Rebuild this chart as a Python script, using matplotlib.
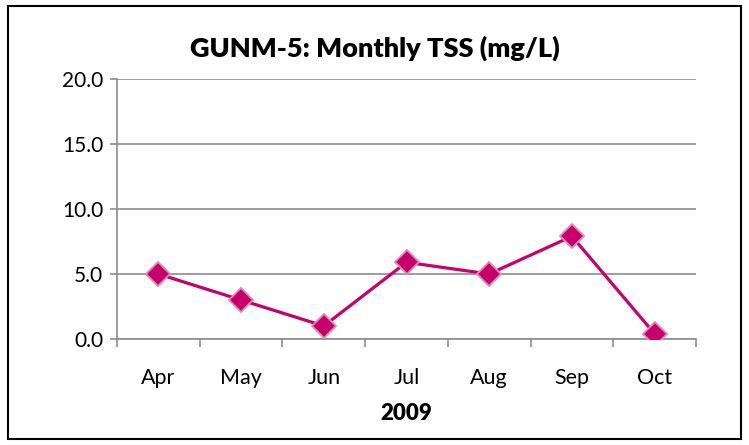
import matplotlib.pyplot as plt
from matplotlib.patches import Rectangle

# данные графика
months = ['Apr', 'May', 'Jun', 'Jul', 'Aug', 'Sep', 'Oct']
tss = [5.0, 3.0, 1.0, 5.9, 5.0, 7.9, 0.4]
yticks = [0.0, 5.0, 10.0, 15.0, 20.0]

plt.rcParams['font.family'] = ['Lato', 'DejaVu Sans']

fig = plt.figure(figsize=(7.49, 4.45), dpi=100)
ax = fig.add_axes([117/749, 1 - 339/445, (696-117)/749, (339-79)/445])

x = list(range(len(months)))
ax.plot(x, tss, '-', color='#C8006A', lw=2.3, zorder=3)
ax.plot(x, tss, 'D', ms=12, mfc='#C8006A', mec='#DE8AB8', mew=1.3, zorder=4)

ax.set_xlim(-0.5, len(months) - 0.5)
ax.set_ylim(0, 20)
ax.set_yticks(yticks)
ax.set_yticklabels([f'{v:.1f}' for v in yticks])
ax.set_xticks(x)
ax.set_xticklabels(months)
ax.set_xticks([i - 0.5 for i in range(len(months) + 1)], minor=True)

ax.grid(axis='y', color='#8c8c8c', lw=1.2)
ax.set_axisbelow(True)
for s in ['top', 'right']:
    ax.spines[s].set_visible(False)
for s in ['left', 'bottom']:
    ax.spines[s].set_color('#8c8c8c')
    ax.spines[s].set_linewidth(1.2)

ax.tick_params(axis='x', which='major', length=0, pad=21, labelsize=15.5)
ax.tick_params(axis='x', which='minor', length=6, color='#8c8c8c', width=1.2)
ax.tick_params(axis='y', length=5, color='#8c8c8c', width=1.2, pad=5, labelsize=15)

ax.set_xlabel('2009', fontsize=16, fontweight='heavy', labelpad=11)
fig.text(0.5, 1 - 48/445, 'GUNM-5: Monthly TSS (mg/L)', ha='center', va='center',
         fontsize=19.5, fontweight='heavy')

# рамка вокруг всего рисунка
fig.patches.append(Rectangle((8/749, 6/445), 733/749, 433/445, transform=fig.transFigure,
                             fill=False, edgecolor='black', lw=1.5))

fig.savefig('out.png', dpi=100)
